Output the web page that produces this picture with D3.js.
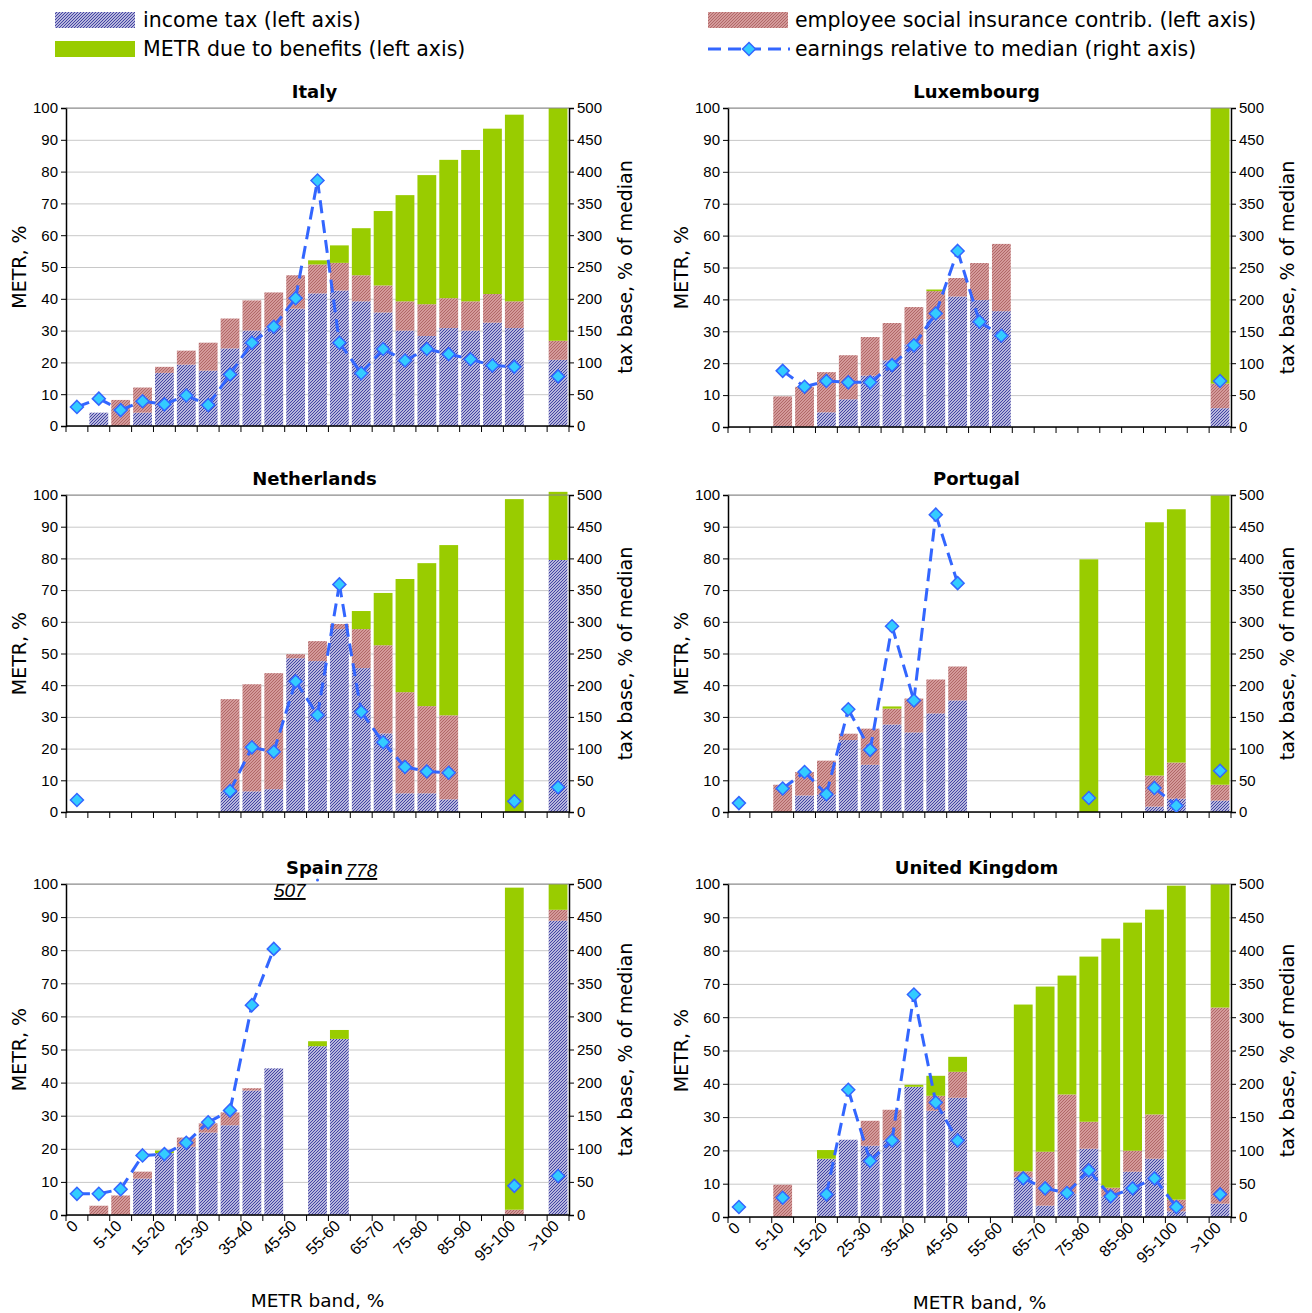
<!DOCTYPE html>
<html>
<head>
<meta charset="utf-8">
<script src="https://cdn.jsdelivr.net/npm/d3@7"></script>
<style>
  body { margin: 0; background: #fff; }
  text { font-family: "Liberation Sans", Arial, sans-serif; }
  .wide { font-family: "DejaVu Sans", Verdana, sans-serif; }
</style>
</head>
<body>
<svg id="chart" width="1312" height="1313"></svg>
<script>
// categories (index 21 is the empty slot between 95-100 and >100)
const categories = ['0', '0-5', '5-10', '10-15', '15-20', '20-25', '25-30', '30-35', '35-40', '40-45', '45-50',
    '50-55', '55-60', '60-65', '65-70', '70-75', '75-80', '80-85', '85-90', '90-95', '95-100', '100', '>100'];
const shownLabels = ['0', '5-10', '15-20', '25-30', '35-40', '45-50', '55-60', '65-70', '75-80', '85-90', '95-100', '>100'];
const leftTicks = [0, 10, 20, 30, 40, 50, 60, 70, 80, 90, 100];
const rightTicks = [0, 50, 100, 150, 200, 250, 300, 350, 400, 450, 500];

const italyIncome = [0, 4.2, 0, 4.2, 16.7, 19.3, 17.4, 24.4, 30, 31, 36.9, 41.7, 42.6, 39.2, 35.7, 30, 28.3, 30.8, 30, 32.5, 30.8, 0, 20.8];
const italySic = [0, 0, 8.2, 7.9, 1.9, 4.4, 8.8, 9.4, 9.5, 11, 10.5, 9.1, 8.7, 8.2, 8.5, 9.2, 10, 9.4, 9.2, 9, 8.4, 0, 6];
const italyBen = [0, 0, 0, 0, 0, 0, 0, 0, 0, 0, 0, 1.3, 5.5, 14.8, 23.4, 33.4, 40.6, 43.5, 47.6, 52, 58.7, 0, 73.2];
const italyEarn = [30, 43, 25, 39, 34, 48, 33, 81, 131, 156, 201, 386, 131, 83, 121, 103, 121, 113, 105, 95, 93, null, 78];

const luxIncome = [0, 0, 0.3, 0, 4.6, 8.7, 16.1, 20.9, 25.9, 33.8, 40.9, 39.8, 36.3, 0, 0, 0, 0, 0, 0, 0, 0, 0, 5.9];
const luxSic = [0, 0, 9.3, 12.6, 12.6, 13.8, 12.1, 11.7, 11.7, 8.8, 5.8, 11.6, 21.1, 0, 0, 0, 0, 0, 0, 0, 0, 0, 7.7];
const luxBen = [0, 0, 0, 0, 0, 0, 0, 0, 0, 0.5, 0, 0, 0, 0, 0, 0, 0, 0, 0, 0, 0, 0, 86.4];
const luxEarn = [null, null, 88, 63, 72, 70, 70, 97, 128, 178, 276, 165, 143, null, null, null, null, null, null, null, null, null, 72];

const nlIncome = [0, 0, 0, 0, 0, 0, 0, 6.5, 6.5, 7.2, 48.5, 47.6, 57.7, 45.4, 24.8, 5.9, 5.9, 4, 0, 0, 0, 0, 79.5];
const nlSic = [0, 0, 0, 0, 0, 0, 0, 29.1, 33.8, 36.6, 1.3, 6.3, 1.6, 12.3, 27.8, 31.9, 27.5, 26.5, 0, 0, 0, 0, 0];
const nlBen = [0, 0, 0, 0, 0, 0, 0, 0, 0, 0, 0, 0, 0, 5.7, 16.5, 35.7, 45.1, 53.7, 0, 0, 98.7, 0, 21.5];
const nlEarn = [19, null, null, null, null, null, null, 33, 102, 95, 206, 153, 359, 158, 110, 71, 64, 62, null, null, 17, null, 39];

const ptIncome = [0, 0, 0, 5.2, 5.5, 22.7, 14.9, 27.6, 25.1, 31.1, 35.2, 0, 0, 0, 0, 0, 0, 0, 0, 1.7, 4.2, 0, 3.6];
const ptSic = [0, 0, 8.6, 7.4, 10.7, 2, 11.4, 5, 10.7, 10.7, 10.7, 0, 0, 0, 0, 0, 0, 0, 0, 9.8, 11.4, 0, 5];
const ptBen = [0, 0, 0, 0, 0, 0, 0, 0.7, 0, 0, 0, 0, 0, 0, 0, 0, 79.7, 0, 0, 79.9, 79.9, 0, 91.3];
const ptEarn = [14, null, 37, 63, 28, 162, 98, 293, 176, 469, 361, null, null, null, null, null, 22, null, null, 38, 10, null, 65];

const esIncome = [0, 0, 0, 11, 18.7, 20.6, 24.9, 27.1, 37.6, 44.3, 0, 51, 53.2, 0, 0, 0, 0, 0, 0, 0, 0, 0, 88.9];
const esSic = [0, 2.8, 5.9, 2.1, 0, 2.8, 2.8, 3.9, 0.7, 0, 0, 0, 0, 0, 0, 0, 0, 0, 0, 0, 1.6, 0, 3.3];
const esBen = [0, 0, 0, 0, 0.8, 0, 0, 0, 0, 0, 0, 1.5, 2.7, 0, 0, 0, 0, 0, 0, 0, 97.3, 0, 7.8];
const esEarn = [32, 32, 39, 90, 92, 109, 140, 158, 317, 402, 507, 778, null, null, null, null, null, null, null, null, 44, null, 59];

const ukIncome = [0, 0, 0, 0, 17.5, 23.2, 21.4, 23, 39.1, 31.9, 35.8, 0, 0, 11.9, 3.4, 7, 20.5, 6.1, 13.6, 17.5, 1.7, 0, 4];
const ukSic = [0, 0, 9.7, 0, 0, 0, 7.5, 9.2, 0, 4.5, 7.8, 0, 0, 1.8, 16.2, 29.8, 8.1, 2.7, 6.3, 13.3, 3.5, 0, 58.9];
const ukBen = [0, 0, 0, 0, 2.6, 0, 0, 0, 0.6, 6, 4.5, 0, 0, 50.1, 49.6, 35.7, 49.6, 74.8, 68.5, 61.5, 94.3, 0, 37.1];
const ukEarn = [15, null, 29, null, 34, 191, 84, 115, 334, 172, 115, null, null, 58, 43, 36, 70, 31, 43, 58, 15, null, 34];

const panels = [
    {name: 'Italy', income: italyIncome, sic: italySic, ben: italyBen, earn: italyEarn, x: 66, y: 108, h: 318},
    {name: 'Luxembourg', income: luxIncome, sic: luxSic, ben: luxBen, earn: luxEarn, x: 728, y: 108, h: 319},
    {name: 'Netherlands', income: nlIncome, sic: nlSic, ben: nlBen, earn: nlEarn, x: 66, y: 495, h: 317},
    {name: 'Portugal', income: ptIncome, sic: ptSic, ben: ptBen, earn: ptEarn, x: 728, y: 495, h: 317},
    {name: 'Spain', income: esIncome, sic: esSic, ben: esBen, earn: esEarn, x: 66, y: 884, h: 331, bottom: true},
    {name: 'United Kingdom', income: ukIncome, sic: ukSic, ben: ukBen, earn: ukEarn, x: 728, y: 884, h: 333, bottom: true},
];

const W = 503;
const svg = d3.select('#chart');
const defs = svg.append('defs');

//hatch patterns
const pIncome = defs.append('pattern').attr('id', 'hIncome').attr('patternUnits', 'userSpaceOnUse')
    .attr('width', 3).attr('height', 3);
pIncome.append('rect').attr('width', 3).attr('height', 3).attr('fill', '#e8e8f4');
pIncome.append('path').attr('d', 'M0,3 L3,0 M-1,1 L1,-1 M2,4 L4,2').attr('stroke', '#3a3aa0').attr('stroke-width', 1.1);
const pSic = defs.append('pattern').attr('id', 'hSic').attr('patternUnits', 'userSpaceOnUse')
    .attr('width', 3).attr('height', 3);
pSic.append('rect').attr('width', 3).attr('height', 3).attr('fill', '#d49a9a');
pSic.append('path').attr('d', 'M0,3 L3,0 M-1,1 L1,-1 M2,4 L4,2').attr('stroke', '#b06868').attr('stroke-width', 1);

const blue = '#3366FF', cyan = '#33CCFF', green = '#99CC00';

function diamond(g, cx, cy, s) {
    g.append('path')
        .attr('d', `M${cx},${cy - s} L${cx + s},${cy} L${cx},${cy + s} L${cx - s},${cy} Z`)
        .attr('fill', cyan).attr('stroke', blue).attr('stroke-width', 1.5);
}

panels.forEach((p, pi) => {
    const g = svg.append('g').attr('transform', `translate(${p.x},${p.y})`);
    const x = d3.scaleBand().domain(categories).range([0, W]).paddingInner(0.14).paddingOuter(0.07);
    const step = W / categories.length;
    const cx = c => x(c) + x.bandwidth() / 2;
    const yL = d3.scaleLinear().domain([0, 100]).range([p.h, 0]);
    const yR = d3.scaleLinear().domain([0, 500]).range([p.h, 0]);

    //grid
    g.append('g').call(d3.axisLeft(yL).tickValues(leftTicks).tickSize(-W).tickFormat(''))
        .call(a => a.select('.domain').remove())
        .selectAll('line').attr('stroke', '#c8c8c8');

    //bars
    categories.forEach((c, i) => {
        const parts = [[p.income[i], 'url(#hIncome)'], [p.sic[i], 'url(#hSic)'], [p.ben[i], green]];
        let base = 0;
        parts.forEach(([v, fill]) => {
            if (v > 0) {
                g.append('rect').attr('x', x(c)).attr('width', x.bandwidth())
                    .attr('y', yL(base + v)).attr('height', yL(base) - yL(base + v))
                    .attr('fill', fill);
            }
            base += v;
        });
    });

    //axes
    const la = g.append('g').call(d3.axisLeft(yL).tickValues(leftTicks).tickSize(5).tickPadding(3));
    const ra = g.append('g').attr('transform', `translate(${W},0)`)
        .call(d3.axisRight(yR).tickValues(rightTicks).tickSize(5).tickPadding(3));
    const xa = g.append('g').attr('transform', `translate(0,${p.h})`);
    xa.append('line').attr('x1', 0).attr('x2', W).attr('stroke', '#000').attr('stroke-width', 1.5);
    d3.range(categories.length + 1).forEach(k => {
        xa.append('line').attr('x1', k * step).attr('x2', k * step).attr('y1', 0).attr('y2', 6).attr('stroke', '#000');
    });
    [la, ra].forEach(a => {
        a.selectAll('text').attr('font-size', 15).attr('fill', '#000').attr('font-family', '"Liberation Sans", Arial, sans-serif');
        a.select('.domain').attr('stroke-width', 1.5);
    });
    g.append('line').attr('x1', 0).attr('x2', W).attr('y1', 0).attr('y2', 0).attr('stroke', '#888');

    if (p.bottom) {
        shownLabels.forEach(c => {
            xa.append('text').attr('text-anchor', 'end').attr('font-size', 16)
                .attr('transform', `translate(${cx(c) + 2},${12}) rotate(-45)`)
                .text(c);
        });
        g.append('text').attr('class', 'wide').attr('x', W / 2).attr('y', p.h + 92).attr('text-anchor', 'middle')
            .attr('font-size', 18.5).text('METR band, %');
    }

    //titles
    g.append('text').attr('class', 'wide').attr('x', W / 2 - 3).attr('y', -10).attr('text-anchor', 'middle')
        .attr('font-size', 18).attr('font-weight', 'bold').text(p.name);
    g.append('text').attr('class', 'wide').attr('transform', `translate(-40,${p.h / 2}) rotate(-90)`).attr('text-anchor', 'middle')
        .attr('font-size', 19).text('METR, %');
    g.append('text').attr('class', 'wide').attr('transform', `translate(${W + 63},${p.h / 2}) rotate(-90)`).attr('text-anchor', 'middle')
        .attr('font-size', 19).text('tax base, % of median');

    //earnings line, clipped to plot; segments to off-scale points are not drawn
    const clipId = 'clip' + pi;
    defs.append('clipPath').attr('id', clipId).append('rect').attr('x', -10).attr('y', 0).attr('width', W + 20).attr('height', p.h);
    const lg = g.append('g').attr('clip-path', `url(#${clipId})`);
    for (let i = 0; i < categories.length - 1; i++) {
        const a = p.earn[i], b = p.earn[i + 1];
        if (a == null || b == null || a > 500 || b > 500) continue;
        lg.append('line').attr('x1', cx(categories[i])).attr('y1', yR(a))
            .attr('x2', cx(categories[i + 1])).attr('y2', yR(b))
            .attr('stroke', blue).attr('stroke-width', 3).attr('stroke-dasharray', '13,7');
    }
    p.earn.forEach((v, i) => {
        if (v == null || v > 500) return;
        diamond(lg, cx(categories[i]), yR(v), 6.5);
    });

    //out-of-range values
    p.earn.forEach((v, i) => {
        if (v == null || v <= 500) return;
        const lx = v < 600 ? cx(categories[i]) + 10 : cx(categories[i]) + 28;
        const ly = v < 600 ? 13 : -7;
        g.append('text').attr('x', lx).attr('y', ly).attr('text-anchor', v < 600 ? 'end' : 'start')
            .attr('font-family', '"Liberation Serif", "Times New Roman", serif').attr('font-style', 'italic')
            .attr('text-decoration', 'underline').attr('font-size', 19).text(v);
    });
    if (p.earn.some(v => v > 500 && v < 600)) {
        g.append('circle').attr('cx', cx(categories[11])).attr('cy', -4).attr('r', 1.5).attr('fill', blue);
    }
});

//legend
const leg = svg.append('g').attr('font-size', 20.5).attr('class', 'wide');
leg.append('rect').attr('x', 55).attr('y', 12).attr('width', 80).attr('height', 16).attr('fill', 'url(#hIncome)');
leg.append('text').attr('class', 'wide').attr('x', 143).attr('y', 27).text('income tax (left axis)');
leg.append('rect').attr('x', 55).attr('y', 41).attr('width', 80).attr('height', 16).attr('fill', green);
leg.append('text').attr('class', 'wide').attr('x', 143).attr('y', 56).text('METR due to benefits (left axis)');
leg.append('rect').attr('x', 708).attr('y', 12).attr('width', 80).attr('height', 16).attr('fill', 'url(#hSic)');
leg.append('text').attr('class', 'wide').attr('x', 795).attr('y', 27).text('employee social insurance contrib. (left axis)');
leg.append('line').attr('x1', 708).attr('x2', 790).attr('y1', 49).attr('y2', 49)
    .attr('stroke', blue).attr('stroke-width', 3).attr('stroke-dasharray', '13,7');
diamond(leg, 749, 49, 6.5);
leg.append('text').attr('class', 'wide').attr('x', 795).attr('y', 56).text('earnings relative to median (right axis)');
</script>
</body>
</html>
